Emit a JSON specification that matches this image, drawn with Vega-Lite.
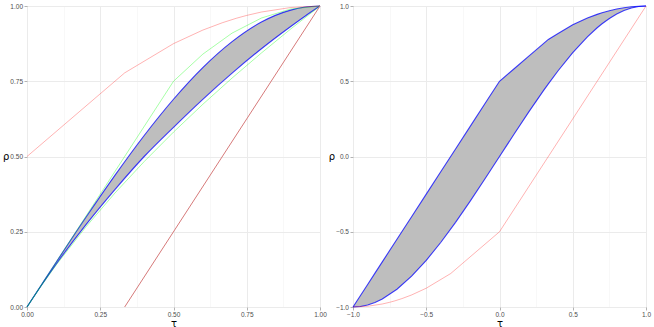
{
  "$schema": "https://vega.github.io/schema/vega-lite/v6.json",
  "padding": {"left": 2, "top": 2, "right": 2, "bottom": 0},
  "spacing": 0,
  "config": {
    "font": "Liberation Sans",
    "view": {"stroke": "#B3B3B3", "strokeWidth": 1},
    "axis": {
      "domain": false,
      "labelFont": "Liberation Sans",
      "labelFontSize": 6.5,
      "labelColor": "#4D4D4D",
      "labelFlush": false,
      "labelOverlap": false,
      "labelPadding": 1.5,
      "tickColor": "#B3B3B3",
      "tickSize": 3,
      "titleFont": "DejaVu Sans",
      "titleFontSize": 10,
      "titleFontWeight": "normal",
      "titleColor": "#000000"
    }
  },
  "datasets": {
    "leftBand": [
      {"t": 0, "lo": 0, "hi": 0},
      {"t": 0.05, "lo": 0.073, "hi": 0.0749},
      {"t": 0.1, "lo": 0.143, "hi": 0.1495},
      {"t": 0.2, "lo": 0.272, "hi": 0.2963},
      {"t": 0.3, "lo": 0.39, "hi": 0.4373},
      {"t": 0.4, "lo": 0.5, "hi": 0.5698},
      {"t": 0.5, "lo": 0.597, "hi": 0.6902},
      {"t": 0.6, "lo": 0.69, "hi": 0.7955},
      {"t": 0.7, "lo": 0.777, "hi": 0.8818},
      {"t": 0.8, "lo": 0.858, "hi": 0.9467},
      {"t": 0.9, "lo": 0.932, "hi": 0.9863},
      {"t": 0.95, "lo": 0.967, "hi": 0.9966},
      {"t": 1, "lo": 1, "hi": 1}
    ],
    "leftLines": [
      {"s": "gu", "t": 0, "r": 0},
      {"s": "gu", "t": 0.5, "r": 0.75},
      {"s": "gu", "t": 0.6, "r": 0.84},
      {"s": "gu", "t": 0.7, "r": 0.91},
      {"s": "gu", "t": 0.8, "r": 0.96},
      {"s": "gu", "t": 0.9, "r": 0.99},
      {"s": "gu", "t": 1, "r": 1},
      {"s": "gl", "t": 0, "r": 0},
      {"s": "gl", "t": 0.05, "r": 0.0724},
      {"s": "gl", "t": 0.1, "r": 0.1402},
      {"s": "gl", "t": 0.2, "r": 0.2649},
      {"s": "gl", "t": 0.3, "r": 0.3784},
      {"s": "gl", "t": 0.4, "r": 0.4832},
      {"s": "gl", "t": 0.5, "r": 0.5811},
      {"s": "gl", "t": 0.6, "r": 0.6733},
      {"s": "gl", "t": 0.7, "r": 0.7607},
      {"s": "gl", "t": 0.8, "r": 0.8439},
      {"s": "gl", "t": 0.9, "r": 0.9235},
      {"s": "gl", "t": 1, "r": 1},
      {"s": "pink", "t": 0, "r": 0.5},
      {"s": "pink", "t": 0.3333, "r": 0.7778},
      {"s": "pink", "t": 0.5, "r": 0.875},
      {"s": "pink", "t": 0.6, "r": 0.92},
      {"s": "pink", "t": 0.6667, "r": 0.9444},
      {"s": "pink", "t": 0.7143, "r": 0.9592},
      {"s": "pink", "t": 0.75, "r": 0.96875},
      {"s": "pink", "t": 0.8, "r": 0.98},
      {"s": "pink", "t": 0.9, "r": 0.995},
      {"s": "pink", "t": 1, "r": 1},
      {"s": "red", "t": 0.3333, "r": 0},
      {"s": "red", "t": 1, "r": 1}
    ],
    "rightBand": [
      {"t": -1, "lo": -1, "hi": -1},
      {"t": -0.95, "lo": -0.9966, "hi": -0.925},
      {"t": -0.9, "lo": -0.9863, "hi": -0.85},
      {"t": -0.85, "lo": -0.9698, "hi": -0.775},
      {"t": -0.8, "lo": -0.9467, "hi": -0.7},
      {"t": -0.7, "lo": -0.8818, "hi": -0.55},
      {"t": -0.6, "lo": -0.7955, "hi": -0.4},
      {"t": -0.5, "lo": -0.6902, "hi": -0.25},
      {"t": -0.4, "lo": -0.5698, "hi": -0.1},
      {"t": -0.3, "lo": -0.4373, "hi": 0.05},
      {"t": -0.2, "lo": -0.2963, "hi": 0.2},
      {"t": -0.1, "lo": -0.1495, "hi": 0.35},
      {"t": 0, "lo": 0, "hi": 0.5},
      {"t": 0.1, "lo": 0.1495, "hi": 0.5833},
      {"t": 0.2, "lo": 0.2963, "hi": 0.6667},
      {"t": 0.3, "lo": 0.4373, "hi": 0.75},
      {"t": 0.3333, "lo": 0.4826, "hi": 0.7778},
      {"t": 0.4, "lo": 0.5698, "hi": 0.8167},
      {"t": 0.5, "lo": 0.6902, "hi": 0.875},
      {"t": 0.6, "lo": 0.7955, "hi": 0.92},
      {"t": 0.6667, "lo": 0.8553, "hi": 0.9444},
      {"t": 0.7, "lo": 0.8818, "hi": 0.9548},
      {"t": 0.75, "lo": 0.9171, "hi": 0.96875},
      {"t": 0.8, "lo": 0.9467, "hi": 0.98},
      {"t": 0.85, "lo": 0.9698, "hi": 0.98875},
      {"t": 0.9, "lo": 0.9863, "hi": 0.995},
      {"t": 0.95, "lo": 0.9966, "hi": 0.99875},
      {"t": 1, "lo": 1, "hi": 1}
    ],
    "rightLines": [
      {"s": "pink", "t": -1, "r": -1},
      {"s": "pink", "t": -0.9, "r": -0.995},
      {"s": "pink", "t": -0.8, "r": -0.98},
      {"s": "pink", "t": -0.75, "r": -0.96875},
      {"s": "pink", "t": -0.7143, "r": -0.9592},
      {"s": "pink", "t": -0.6667, "r": -0.9444},
      {"s": "pink", "t": -0.6, "r": -0.92},
      {"s": "pink", "t": -0.5, "r": -0.875},
      {"s": "pink", "t": -0.3333, "r": -0.7778},
      {"s": "pink", "t": 0, "r": -0.5},
      {"s": "pink", "t": 1, "r": 1}
    ]
  },
  "hconcat": [
    {
      "width": 293,
      "height": 301,
      "encoding": {
        "x": {
          "field": "t", "type": "quantitative", "title": "τ",
          "scale": {"domain": [0, 1], "nice": false, "zero": false},
          "axis": {
            "values": [0, 0.125, 0.25, 0.375, 0.5, 0.625, 0.75, 0.875, 1],
            "labelExpr": "(datum.value*4) % 1 === 0 ? format(datum.value, '.2f') : ''",
            "tickOpacity": {"condition": {"test": "(datum.value*4) % 1 !== 0", "value": 0}, "value": 1},
            "gridColor": {"condition": {"test": "(datum.value*4) % 1 !== 0", "value": "#F3F3F3"}, "value": "#EBEBEB"},
            "gridWidth": {"condition": {"test": "(datum.value*4) % 1 !== 0", "value": 0.6}, "value": 1},
            "titlePadding": 0
          }
        }
      },
      "layer": [
        {
          "data": {"name": "leftBand"},
          "mark": {"type": "area", "color": "#BEBEBE", "opacity": 1, "interpolate": "monotone"},
          "encoding": {
            "y": {
              "field": "lo", "type": "quantitative", "title": "ρ",
              "scale": {"domain": [0, 1], "nice": false, "zero": false},
              "axis": {
                "values": [0, 0.125, 0.25, 0.375, 0.5, 0.625, 0.75, 0.875, 1],
                "labelExpr": "(datum.value*4) % 1 === 0 ? format(datum.value, '.2f') : ''",
                "tickOpacity": {"condition": {"test": "(datum.value*4) % 1 !== 0", "value": 0}, "value": 1},
                "gridColor": {"condition": {"test": "(datum.value*4) % 1 !== 0", "value": "#F3F3F3"}, "value": "#EBEBEB"},
                "gridWidth": {"condition": {"test": "(datum.value*4) % 1 !== 0", "value": 0.6}, "value": 1},
                "titleAngle": 0,
                "titleAlign": "right",
                "titleBaseline": "middle",
                "titlePadding": 1
              }
            },
            "y2": {"field": "hi"}
          }
        },
        {
          "data": {"name": "leftBand"},
          "mark": {"type": "line", "color": "#0000FF", "opacity": 0.75, "strokeWidth": 1.1, "interpolate": "monotone"},
          "encoding": {"y": {"field": "hi", "type": "quantitative"}}
        },
        {
          "data": {"name": "leftBand"},
          "mark": {"type": "line", "color": "#0000FF", "opacity": 0.75, "strokeWidth": 1.1, "interpolate": "monotone"},
          "encoding": {"y": {"field": "lo", "type": "quantitative"}}
        },
        {
          "data": {"name": "leftLines"},
          "transform": [{"filter": "datum.s === 'gu' || datum.s === 'gl'"}],
          "mark": {"type": "line", "color": "#00FF00", "opacity": 0.35, "strokeWidth": 1},
          "encoding": {"y": {"field": "r", "type": "quantitative"}, "detail": {"field": "s"}}
        },
        {
          "data": {"name": "leftLines"},
          "transform": [{"filter": "datum.s === 'pink'"}],
          "mark": {"type": "line", "color": "#FF0000", "opacity": 0.3, "strokeWidth": 1},
          "encoding": {"y": {"field": "r", "type": "quantitative"}}
        },
        {
          "data": {"name": "leftLines"},
          "transform": [{"filter": "datum.s === 'red'"}],
          "mark": {"type": "line", "color": "#D67A7A", "opacity": 1, "strokeWidth": 1},
          "encoding": {"y": {"field": "r", "type": "quantitative"}}
        }
      ]
    },
    {
      "width": 293,
      "height": 301,
      "encoding": {
        "x": {
          "field": "t", "type": "quantitative", "title": "τ",
          "scale": {"domain": [-1, 1], "nice": false, "zero": false},
          "axis": {
            "values": [-1, -0.75, -0.5, -0.25, 0, 0.25, 0.5, 0.75, 1],
            "labelExpr": "(datum.value*2) % 1 === 0 ? format(datum.value, '.1f') : ''",
            "tickOpacity": {"condition": {"test": "(datum.value*2) % 1 !== 0", "value": 0}, "value": 1},
            "gridColor": {"condition": {"test": "(datum.value*2) % 1 !== 0", "value": "#F3F3F3"}, "value": "#EBEBEB"},
            "gridWidth": {"condition": {"test": "(datum.value*2) % 1 !== 0", "value": 0.6}, "value": 1},
            "titlePadding": 0
          }
        }
      },
      "layer": [
        {
          "data": {"name": "rightBand"},
          "mark": {"type": "area", "color": "#BEBEBE", "opacity": 1},
          "encoding": {
            "y": {
              "field": "lo", "type": "quantitative", "title": "ρ",
              "scale": {"domain": [-1, 1], "nice": false, "zero": false},
              "axis": {
                "values": [-1, -0.75, -0.5, -0.25, 0, 0.25, 0.5, 0.75, 1],
                "labelExpr": "(datum.value*2) % 1 === 0 ? format(datum.value, '.1f') : ''",
                "tickOpacity": {"condition": {"test": "(datum.value*2) % 1 !== 0", "value": 0}, "value": 1},
                "gridColor": {"condition": {"test": "(datum.value*2) % 1 !== 0", "value": "#F3F3F3"}, "value": "#EBEBEB"},
                "gridWidth": {"condition": {"test": "(datum.value*2) % 1 !== 0", "value": 0.6}, "value": 1},
                "titleAngle": 0,
                "titleAlign": "right",
                "titleBaseline": "middle",
                "titlePadding": 1
              }
            },
            "y2": {"field": "hi"}
          }
        },
        {
          "data": {"name": "rightBand"},
          "mark": {"type": "line", "color": "#0000FF", "opacity": 0.75, "strokeWidth": 1.1},
          "encoding": {"y": {"field": "hi", "type": "quantitative"}}
        },
        {
          "data": {"name": "rightBand"},
          "mark": {"type": "line", "color": "#0000FF", "opacity": 0.75, "strokeWidth": 1.1},
          "encoding": {"y": {"field": "lo", "type": "quantitative"}}
        },
        {
          "data": {"name": "rightLines"},
          "mark": {"type": "line", "color": "#FF0000", "opacity": 0.3, "strokeWidth": 1},
          "encoding": {"y": {"field": "r", "type": "quantitative"}}
        }
      ]
    }
  ]
}
